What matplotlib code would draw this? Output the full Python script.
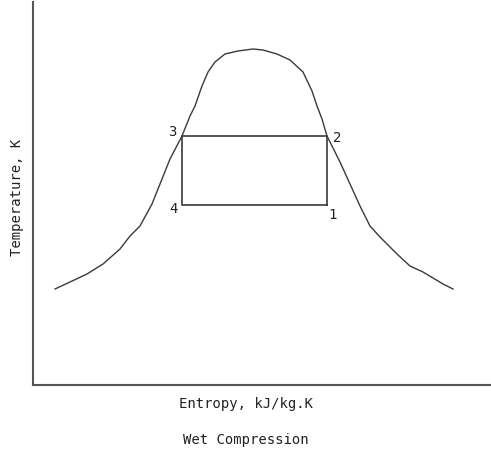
import matplotlib
matplotlib.use("Agg")
import matplotlib.pyplot as plt

# saturation dome (entropy, temperature) in arbitrary units
dome_s = [22, 37, 54, 70, 87, 97, 107, 119, 129, 137, 149, 157, 162, 169, 175, 182,
          192, 205, 220, 230, 244, 257, 270, 279, 284, 289, 294, 307, 327, 337, 347,
          364, 377, 390, 410, 420]
dome_T = [96, 103, 111, 121, 136, 149, 159, 181, 206, 226, 249, 269, 279, 299, 313, 323,
          331, 334, 336, 335, 331, 325, 313, 294, 279, 266, 249, 223, 179, 159, 148,
          131, 119, 113, 101, 96]

# cycle states 1-2-3-4
cycle_labels = ['1', '2', '3', '4']
cycle_s = [294, 294, 149, 149]
cycle_T = [180, 249, 249, 180]

line_col = '#3a3a3a'
font = 'DejaVu Sans Mono'

fig = plt.figure(figsize=(4.91, 4.52), dpi=100)
ax = fig.add_axes([33 / 491, 66 / 452, 458 / 491, 383 / 452])
ax.set_xlim(0, 458)
ax.set_ylim(0, 383)

ax.plot(dome_s, dome_T, color=line_col, linewidth=1.0)
ax.plot(cycle_s + cycle_s[:1], cycle_T + cycle_T[:1], color=line_col, linewidth=1.2)

offsets = {'1': (6, -9), '2': (10, -1), '3': (-10, 5), '4': (-9, -3)}
for lab, s, T in zip(cycle_labels, cycle_s, cycle_T):
    dx, dy = offsets[lab]
    ax.text(s + dx, T + dy, lab, fontsize=10, family=font,
            ha='center', va='center', color='#222222')

ax.set_xticks([])
ax.set_yticks([])
ax.spines['top'].set_visible(False)
ax.spines['right'].set_visible(False)
for sp in ('left', 'bottom'):
    ax.spines[sp].set_color('#555555')
    ax.spines[sp].set_linewidth(1.5)

fig.text(17 / 491, 1 - 197 / 452, 'Temperature, K', rotation=90, fontsize=10,
         family=font, ha='center', va='center', color='#222222')
fig.text(246 / 491, 1 - 404 / 452, 'Entropy, kJ/kg.K', fontsize=10,
         family=font, ha='center', va='center', color='#222222')
fig.text(246 / 491, 1 - 440 / 452, 'Wet Compression', fontsize=10,
         family=font, ha='center', va='center', color='#222222')

fig.savefig('out.png', dpi=100, facecolor='white')
